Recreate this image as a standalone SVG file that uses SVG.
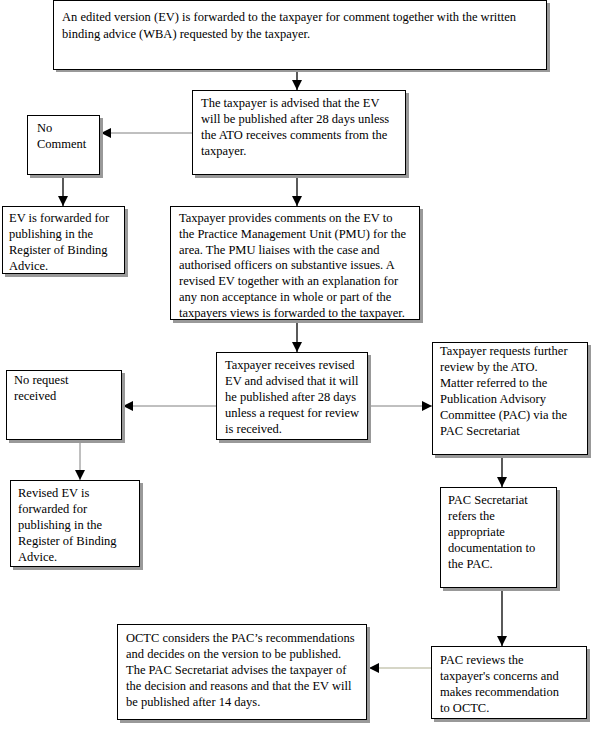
<svg xmlns="http://www.w3.org/2000/svg" width="591" height="735" viewBox="0 0 591 735">
<defs>
<style>
.box{fill:#fff;stroke:#000;stroke-width:1}
.sh{fill:#999}
text{font-family:"Liberation Serif","Times New Roman",serif;font-size:12.5px;fill:#000}
.c{fill:none;stroke:#000;stroke-width:1.3}
.g{fill:none;stroke:#808080;stroke-width:1}
.lg{fill:none;stroke:#c8c8b4;stroke-width:1.5}
</style>
<marker id="ah" markerUnits="userSpaceOnUse" markerWidth="10" markerHeight="10" viewBox="0 0 10 10" refX="10" refY="5" orient="auto">
<path d="M0,0 L10,5 L0,10 Z" fill="#000"/>
</marker>
</defs>
<rect width="591" height="735" fill="#fff"/>
<g id="connectors">
<line class="c" x1="297" y1="70" x2="297" y2="90" marker-end="url(#ah)"/>
<line class="g" x1="192" y1="133" x2="101" y2="133" marker-end="url(#ah)"/>
<line class="c" x1="63" y1="175" x2="63" y2="206" marker-end="url(#ah)"/>
<line class="c" x1="297" y1="175" x2="297" y2="206" marker-end="url(#ah)"/>
<line class="c" x1="297" y1="320" x2="297" y2="352" marker-end="url(#ah)"/>
<line class="g" x1="216" y1="406" x2="123" y2="406" marker-end="url(#ah)"/>
<line class="g" x1="368" y1="406" x2="432" y2="406" marker-end="url(#ah)"/>
<line class="g" x1="80" y1="440" x2="80" y2="480" marker-end="url(#ah)"/>
<line class="c" x1="502" y1="455" x2="502" y2="487" marker-end="url(#ah)"/>
<line class="c" x1="502" y1="588" x2="502" y2="646" marker-end="url(#ah)"/>
<line class="lg" x1="431" y1="668" x2="369" y2="668" marker-end="url(#ah)"/>
</g>
<g id="n1">
<rect class="sh" x="56" y="3" width="494" height="69"/>
<rect class="box" x="53.5" y="0.5" width="493" height="69"/>
<text><tspan x="62" y="21">An edited version (EV) is forwarded to the taxpayer for comment together with the written</tspan><tspan x="62" y="38">binding advice (WBA) requested by the taxpayer.</tspan></text>
</g>
<g id="n2">
<rect class="sh" x="195" y="93" width="214" height="85"/>
<rect class="box" x="192.5" y="90.5" width="213" height="84"/>
<text><tspan x="201" y="107">The taxpayer is advised that the EV</tspan><tspan x="201" y="123">will be published after 28 days unless</tspan><tspan x="201" y="139">the ATO receives comments from the</tspan><tspan x="201" y="155">taxpayer.</tspan></text>
</g>
<g id="n3">
<rect class="sh" x="30" y="118" width="73" height="60"/>
<rect class="box" x="27.5" y="115.5" width="72" height="59"/>
<text><tspan x="37" y="132">No</tspan><tspan x="37" y="148">Comment</tspan></text>
</g>
<g id="n4">
<rect class="sh" x="5" y="209" width="123" height="68"/>
<rect class="box" x="2.5" y="206.5" width="122" height="67"/>
<text><tspan x="9" y="222">EV is forwarded for</tspan><tspan x="9" y="238">publishing in the</tspan><tspan x="9" y="254">Register of Binding</tspan><tspan x="9" y="270">Advice.</tspan></text>
</g>
<g id="n5">
<rect class="sh" x="173" y="209" width="250" height="114"/>
<rect class="box" x="170.5" y="206.5" width="249" height="113"/>
<text><tspan x="179" y="222">Taxpayer provides comments on the EV to</tspan><tspan x="179" y="237.8">the Practice Management Unit (PMU) for the</tspan><tspan x="179" y="253.6">area. The PMU liaises with the case and</tspan><tspan x="179" y="269.4">authorised officers on substantive issues. A</tspan><tspan x="179" y="285.2">revised EV together with an explanation for</tspan><tspan x="179" y="301">any non acceptance in whole or part of the</tspan><tspan x="179" y="316.8">taxpayers views is forwarded to the taxpayer.</tspan></text>
</g>
<g id="n6">
<rect class="sh" x="219" y="355" width="152" height="88"/>
<rect class="box" x="216.5" y="352.5" width="151" height="87"/>
<text><tspan x="225" y="369">Taxpayer receives revised</tspan><tspan x="225" y="385">EV and advised that it will</tspan><tspan x="225" y="401">he published after 28 days</tspan><tspan x="225" y="417">unless a request for review</tspan><tspan x="225" y="433">is received.</tspan></text>
</g>
<g id="n7">
<rect class="sh" x="9" y="373" width="116" height="70"/>
<rect class="box" x="6.5" y="370.5" width="115" height="69"/>
<text><tspan x="14" y="384">No request</tspan><tspan x="14" y="400">received</tspan></text>
</g>
<g id="n8">
<rect class="sh" x="435" y="345" width="156" height="113"/>
<rect class="box" x="432.5" y="342.5" width="155" height="112"/>
<text><tspan x="440" y="355">Taxpayer requests further</tspan><tspan x="440" y="371">review by the ATO.</tspan><tspan x="440" y="387">Matter referred to the</tspan><tspan x="440" y="403">Publication Advisory</tspan><tspan x="440" y="419">Committee (PAC) via the</tspan><tspan x="440" y="435">PAC Secretariat</tspan></text>
</g>
<g id="n9">
<rect class="sh" x="13" y="483" width="130" height="87"/>
<rect class="box" x="10.5" y="480.5" width="129" height="86"/>
<text><tspan x="18" y="497">Revised EV is</tspan><tspan x="18" y="513">forwarded for</tspan><tspan x="18" y="529">publishing in the</tspan><tspan x="18" y="545">Register of Binding</tspan><tspan x="18" y="561">Advice.</tspan></text>
</g>
<g id="n10">
<rect class="sh" x="443" y="490" width="117" height="101"/>
<rect class="box" x="440.5" y="487.5" width="116" height="100"/>
<text><tspan x="448" y="504">PAC Secretariat</tspan><tspan x="448" y="520">refers the</tspan><tspan x="448" y="536">appropriate</tspan><tspan x="448" y="552">documentation to</tspan><tspan x="448" y="568">the PAC.</tspan></text>
</g>
<g id="n11">
<rect class="sh" x="434" y="649" width="156" height="73"/>
<rect class="box" x="431.5" y="646.5" width="155" height="72"/>
<text><tspan x="440" y="664">PAC reviews the</tspan><tspan x="440" y="680">taxpayer's concerns and</tspan><tspan x="440" y="696">makes recommendation</tspan><tspan x="440" y="712">to OCTC.</tspan></text>
</g>
<g id="n12">
<rect class="sh" x="120" y="627" width="250" height="96"/>
<rect class="box" x="117.5" y="624.5" width="249" height="95"/>
<text><tspan x="126" y="642">OCTC considers the PAC’s recommendations</tspan><tspan x="126" y="658">and decides on the version to be published.</tspan><tspan x="126" y="674">The PAC Secretariat advises the taxpayer of</tspan><tspan x="126" y="690">the decision and reasons and that the EV will</tspan><tspan x="126" y="706">be published after 14 days.</tspan></text>
</g>
</svg>
